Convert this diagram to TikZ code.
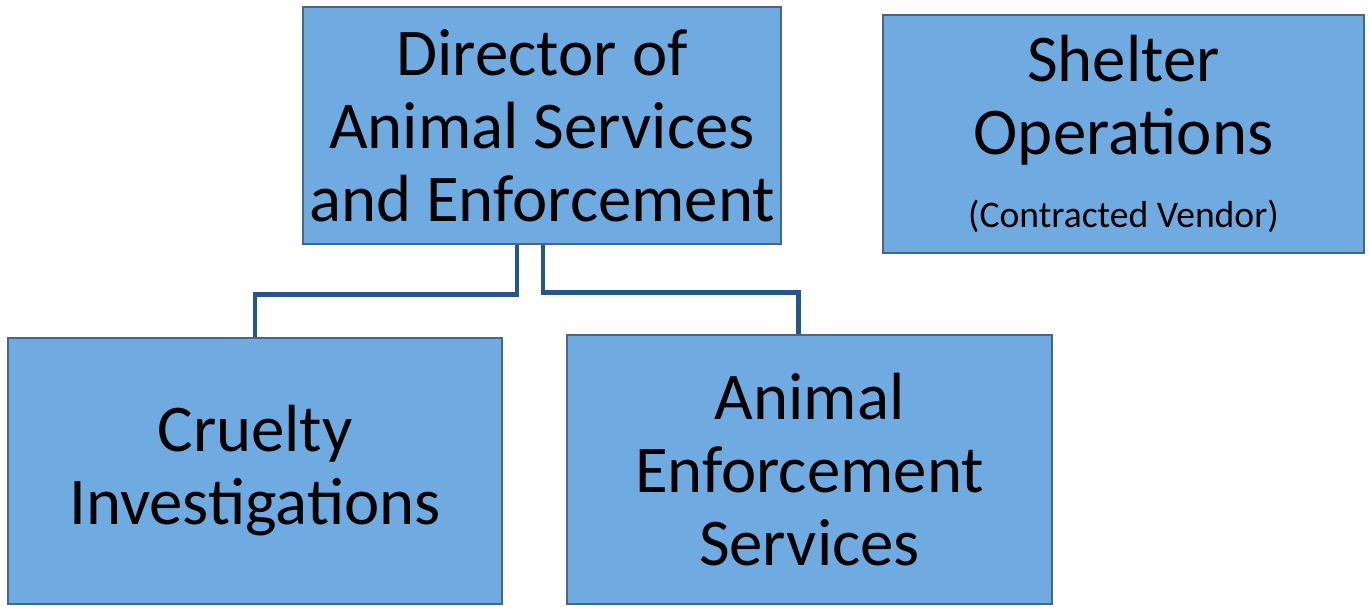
\documentclass[tikz,border=0pt]{standalone}
\usepackage{fontspec}
\setmainfont{Carlito}
\usepackage{tikz}
\usetikzlibrary{positioning}
\definecolor{boxfill}{RGB}{111,170,224}
\definecolor{boxline}{RGB}{72,102,134}
\definecolor{linkblue}{RGB}{36,86,136}

\begin{document}
\begin{tikzpicture}[
        unit/.style={draw=boxline,line width=0.8pt,fill=boxfill,align=center,inner sep=0pt,
            font=\fontsize{19}{20.8}\selectfont},
        link/.style={draw=linkblue,line width=1.3pt}]
        \useasboundingbox (0,0) rectangle (13.70,-6.07);
        \node[unit,minimum width=4.78cm,minimum height=2.37cm] (director) at (5.42,-1.255)
            {Director of\\Animal Services\\and Enforcement};
        \node[unit,minimum width=4.81cm,minimum height=2.38cm] (shelter) at (11.235,-1.34)
            {Shelter\\Operations\\{\fontsize{10.7}{12}\selectfont (Contracted Vendor)}};
        \node[unit,minimum width=4.94cm,minimum height=2.66cm] (cruelty) at (2.55,-4.71)
            {Cruelty\\Investigations};
        \node[unit,minimum width=4.85cm,minimum height=2.69cm] (enforcement) at (8.095,-4.695)
            {Animal\\Enforcement\\Services};
        \path[link]
        ([xshift=-0.25cm]director.south) -- ++(0,-0.49) -| (cruelty.north)
        ([xshift=0.01cm]director.south) -- ++(0,-0.47) -| ([xshift=-0.11cm]enforcement.north);
    \end{tikzpicture}
\end{document}
